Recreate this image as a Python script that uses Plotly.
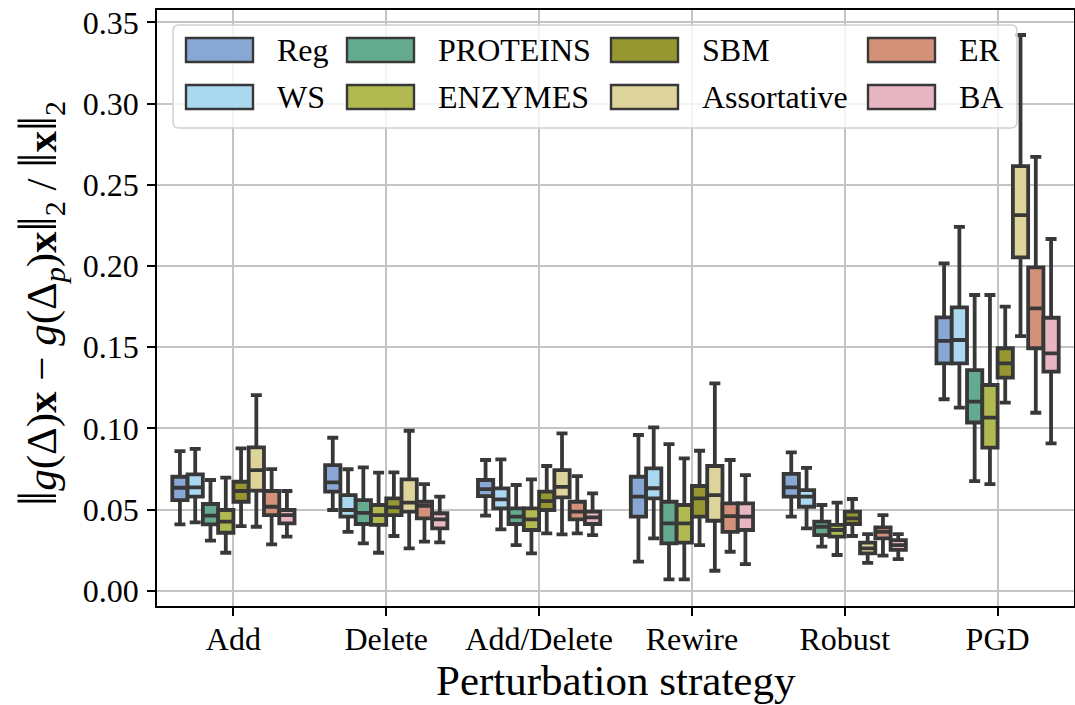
import plotly.graph_objects as go

# ---------------- data ----------------
CATEGORIES = ["Add", "Delete", "Add/Delete", "Rewire", "Robust", "PGD"]
SERIES = ["Reg", "WS", "PROTEINS", "ENZYMES", "SBM", "Assortative", "ER", "BA"]
COLORS = ["#89A7D4", "#AAD8F1", "#63AA8E", "#B1BA50", "#969731", "#DDD49B", "#D4917A", "#E8B6C2"]

# per series (rows) x per category (columns)
LOWER = [
    [0.0409, 0.0497, 0.0462, 0.0179, 0.0456, 0.1179],
    [0.0421, 0.0363, 0.0378, 0.0323, 0.0384, 0.1127],
    [0.0308, 0.0292, 0.0281, 0.0070, 0.0271, 0.0675],
    [0.0234, 0.0234, 0.0230, 0.0070, 0.0220, 0.0657],
    [0.0398, 0.0337, 0.0353, 0.0281, 0.0337, 0.1158],
    [0.0394, 0.0261, 0.0347, 0.0123, 0.0172, 0.1568],
    [0.0286, 0.0302, 0.0353, 0.0240, 0.0216, 0.1096],
    [0.0333, 0.0298, 0.0343, 0.0164, 0.0195, 0.0908],
]
Q1 = [
    [0.0558, 0.0610, 0.0583, 0.0456, 0.0579, 0.1400],
    [0.0579, 0.0456, 0.0507, 0.0569, 0.0517, 0.1400],
    [0.0409, 0.0411, 0.0411, 0.0292, 0.0343, 0.1036],
    [0.0357, 0.0405, 0.0374, 0.0296, 0.0333, 0.0881],
    [0.0548, 0.0466, 0.0497, 0.0456, 0.0411, 0.1312],
    [0.0616, 0.0487, 0.0575, 0.0431, 0.0230, 0.2053],
    [0.0466, 0.0446, 0.0440, 0.0363, 0.0323, 0.1493],
    [0.0415, 0.0384, 0.0411, 0.0374, 0.0251, 0.1349],
]
MEDIAN = [
    [0.0634, 0.0667, 0.0626, 0.0579, 0.0637, 0.1539],
    [0.0637, 0.0497, 0.0563, 0.0631, 0.0579, 0.1544],
    [0.0462, 0.0480, 0.0456, 0.0415, 0.0394, 0.1165],
    [0.0425, 0.0466, 0.0440, 0.0415, 0.0374, 0.1066],
    [0.0614, 0.0513, 0.0552, 0.0569, 0.0446, 0.1400],
    [0.0743, 0.0542, 0.0640, 0.0589, 0.0261, 0.2313],
    [0.0517, 0.0522, 0.0487, 0.0460, 0.0363, 0.1739],
    [0.0466, 0.0440, 0.0452, 0.0456, 0.0281, 0.1462],
]
Q3 = [
    [0.0702, 0.0774, 0.0682, 0.0702, 0.0719, 0.1683],
    [0.0717, 0.0589, 0.0630, 0.0754, 0.0620, 0.1745],
    [0.0534, 0.0558, 0.0507, 0.0548, 0.0425, 0.1359],
    [0.0497, 0.0528, 0.0507, 0.0528, 0.0405, 0.1267],
    [0.0671, 0.0569, 0.0610, 0.0645, 0.0487, 0.1493],
    [0.0883, 0.0686, 0.0743, 0.0768, 0.0296, 0.2615],
    [0.0614, 0.0548, 0.0548, 0.0538, 0.0390, 0.1991],
    [0.0497, 0.0477, 0.0487, 0.0538, 0.0312, 0.1681],
]
UPPER = [
    [0.0860, 0.0942, 0.0805, 0.0959, 0.0852, 0.2016],
    [0.0873, 0.0748, 0.0809, 0.1006, 0.0757, 0.2241],
    [0.0682, 0.0760, 0.0651, 0.0903, 0.0528, 0.1821],
    [0.0696, 0.0727, 0.0686, 0.0815, 0.0542, 0.1821],
    [0.0877, 0.0729, 0.0768, 0.0862, 0.0565, 0.1749],
    [0.1205, 0.0985, 0.0969, 0.1277, 0.0349, 0.3422],
    [0.0749, 0.0657, 0.0706, 0.0805, 0.0466, 0.2672],
    [0.0614, 0.0579, 0.0600, 0.0712, 0.0349, 0.2166],
]

Y_TICKS = [0.00, 0.05, 0.10, 0.15, 0.20, 0.25, 0.30, 0.35]
X_TITLE = "Perturbation strategy"
NORM = '<span style="font-size:54px">‖</span>'
Y_TITLE = (f"{NORM}<i>g</i>(Δ)<b>x</b> − <i>g</i>(Δ<sub><i>p</i></sub>)<b>x</b>{NORM}<sub>2</sub>"
           f" / {NORM}<b>x</b>{NORM}<sub>2</sub>")

# ---------------- style / layout ----------------
W, H = 1075, 705
ML, MR, MT, MB = 157, 1, 10, 99
FONT = "Liberation Serif, Times New Roman, serif"
EDGE = "#383838"
GROUP_W = 0.8
TICK_SIZE = 32

n = len(SERIES)
bw = GROUP_W / n

fig = go.Figure()
for h, name in enumerate(SERIES):
    xs = [c + (h - (n - 1) / 2) * bw for c in range(len(CATEGORIES))]
    fig.add_trace(go.Box(
        name=name,
        x=xs,
        q1=Q1[h], median=MEDIAN[h], q3=Q3[h],
        lowerfence=LOWER[h], upperfence=UPPER[h],
        width=bw,
        whiskerwidth=0.72,
        fillcolor=COLORS[h],
        line=dict(color=EDGE, width=3.8),
        boxpoints=False,
        showlegend=False,
        hoverinfo="skip",
    ))

pw = W - ML - MR
ph = H - MT - MB


def px2paper_x(px):
    return (px - ML) / pw


def px2paper_y(py):
    return (H - MB - py) / ph


shapes = []
annotations = []

# legend frame (rounded rectangle)
lx0, lx1, ly0, ly1, rad = 173, 1017, 25, 128, 6
rx, ry = rad / pw, rad / ph
X0, X1 = px2paper_x(lx0), px2paper_x(lx1)
Y0, Y1 = px2paper_y(ly1), px2paper_y(ly0)
path = (f"M{X0+rx},{Y0} L{X1-rx},{Y0} Q{X1},{Y0} {X1},{Y0+ry} "
        f"L{X1},{Y1-ry} Q{X1},{Y1} {X1-rx},{Y1} L{X0+rx},{Y1} "
        f"Q{X0},{Y1} {X0},{Y1-ry} L{X0},{Y0+ry} Q{X0},{Y0} {X0+rx},{Y0} Z")
shapes.append(dict(type="path", xref="paper", yref="paper", path=path,
                   fillcolor="rgba(255,255,255,0.8)",
                   line=dict(color="#d0d0d0", width=1.5), layer="above"))

col_left = [186, 347, 611, 868]
row_mid = [50, 97]
patch_w, patch_h, label_gap = 67, 24, 22
for h, name in enumerate(SERIES):
    col, row = h // 2, h % 2
    x0 = col_left[col]
    yc = row_mid[row]
    shapes.append(dict(type="rect", xref="paper", yref="paper",
                       x0=px2paper_x(x0), x1=px2paper_x(x0 + patch_w),
                       y0=px2paper_y(yc + patch_h / 2), y1=px2paper_y(yc - patch_h / 2),
                       fillcolor=COLORS[h], line=dict(color=EDGE, width=2.4), layer="above"))
    annotations.append(dict(xref="paper", yref="paper",
                            x=px2paper_x(x0 + patch_w + label_gap), y=px2paper_y(yc),
                            xanchor="left", yanchor="middle", showarrow=False,
                            text=name, font=dict(family=FONT, size=32, color="black")))

# axis titles
annotations.append(dict(xref="paper", yref="paper", x=0.5, y=px2paper_y(680),
                        xanchor="center", yanchor="middle", showarrow=False,
                        text=X_TITLE, font=dict(family=FONT, size=43, color="black")))
annotations.append(dict(xref="paper", yref="paper", x=px2paper_x(40), y=px2paper_y(304),
                        xanchor="center", yanchor="middle", showarrow=False, textangle=-90,
                        text=Y_TITLE, font=dict(family=FONT, size=43, color="black")))

axis_common = dict(
    tickfont=dict(family=FONT, size=TICK_SIZE, color="black"),
    showgrid=True, gridcolor="#c4c4c4", gridwidth=2,
    ticks="outside", ticklen=8, tickwidth=1.5, tickcolor="black",
    showline=True, linecolor="black", linewidth=1.8, mirror=True,
    zeroline=False, automargin=False,
)

fig.update_layout(
    width=W, height=H,
    margin=dict(l=ML, r=MR, t=MT, b=MB, autoexpand=False),
    paper_bgcolor="white", plot_bgcolor="white",
    boxmode="overlay",
    shapes=shapes,
    annotations=annotations,
    font=dict(family=FONT, color="black"),
    xaxis=dict(
        range=[-0.5, len(CATEGORIES) - 0.5],
        tickvals=list(range(len(CATEGORIES))), ticktext=CATEGORIES,
        ticklabelstandoff=-4,
        **axis_common,
    ),
    yaxis=dict(
        range=[-0.0094, 0.3576],
        tickvals=Y_TICKS, tickformat=".2f",
        ticklabelstandoff=2,
        **axis_common,
    ),
)

fig.write_html("out.html", config={"displayModeBar": False},
               post_script="document.body.style.margin='0';document.body.style.padding='0';")
